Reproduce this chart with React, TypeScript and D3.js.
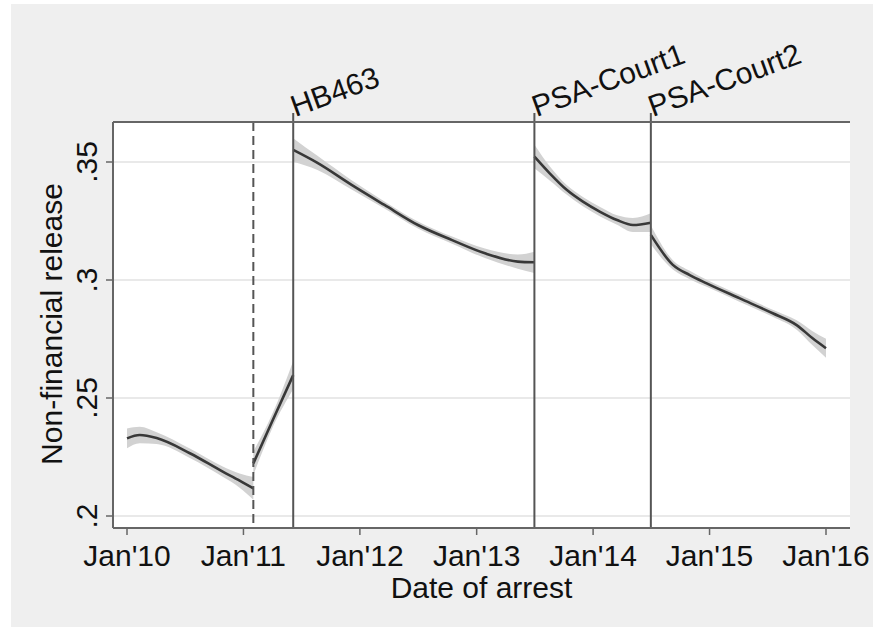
import React from "react";
import * as d3 from "d3";

// ---------- data (date, estimate, CI half-width) ----------
const segPre: [string, number, number][] = [
  ["2010-01-01", 0.2329, 0.0042],
  ["2010-02-10", 0.2343, 0.0035],
  ["2010-04-04", 0.233, 0.0025],
  ["2010-07-17", 0.2266, 0.002],
  ["2010-10-28", 0.2188, 0.0022],
  ["2010-12-20", 0.215, 0.003],
  ["2011-02-01", 0.2117, 0.0048],
];
const segAnnounce: [string, number, number][] = [
  ["2011-02-01", 0.2223, 0.005],
  ["2011-04-03", 0.2407, 0.003],
  ["2011-06-06", 0.2597, 0.006],
];
const segHB463: [string, number, number][] = [
  ["2011-06-06", 0.3551, 0.005],
  ["2011-08-21", 0.3496, 0.003],
  ["2011-12-06", 0.3403, 0.002],
  ["2012-03-18", 0.3318, 0.0015],
  ["2012-07-01", 0.3233, 0.0015],
  ["2012-10-16", 0.3169, 0.0015],
  ["2013-01-27", 0.3113, 0.002],
  ["2013-05-10", 0.3078, 0.003],
  ["2013-07-01", 0.3075, 0.0045],
];
const segCourt1: [string, number, number][] = [
  ["2013-07-01", 0.3523, 0.005],
  ["2013-08-18", 0.3452, 0.003],
  ["2013-10-11", 0.3381, 0.002],
  ["2013-11-30", 0.3332, 0.002],
  ["2014-01-23", 0.3289, 0.002],
  ["2014-03-17", 0.3254, 0.002],
  ["2014-05-06", 0.3233, 0.003],
  ["2014-07-01", 0.3243, 0.004],
];
const segCourt2: [string, number, number][] = [
  ["2014-07-01", 0.3191, 0.004],
  ["2014-09-08", 0.3064, 0.002],
  ["2014-10-31", 0.3021, 0.0018],
  ["2014-12-23", 0.2986, 0.0015],
  ["2015-04-06", 0.2922, 0.0015],
  ["2015-07-18", 0.2859, 0.0015],
  ["2015-10-01", 0.2809, 0.002],
  ["2015-11-20", 0.2753, 0.003],
  ["2016-01-01", 0.2711, 0.004],
];
const segments = [segPre, segAnnounce, segHB463, segCourt1, segCourt2];

const dashedDate = "2011-02-01";
const eventLabels = ["HB463", "PSA-Court1", "PSA-Court2"];
const eventDates = ["2011-06-06", "2013-07-01", "2014-07-01"];

const xTickDates = ["2010-01-01", "2011-01-01", "2012-01-01", "2013-01-01", "2014-01-01", "2015-01-01", "2016-01-01"];
const xTickLabels = ["Jan'10", "Jan'11", "Jan'12", "Jan'13", "Jan'14", "Jan'15", "Jan'16"];
const yTicks = [0.2, 0.25, 0.3, 0.35];
const yTickLabels = [".2", ".25", ".3", ".35"];

const FONT = "'Liberation Sans', Arial, Helvetica, sans-serif";

export default function App() {
  const W = 873, H = 627;
  const left = 113, right = 850, top = 122, bottom = 528;
  const parse = d3.timeParse("%Y-%m-%d");
  const x = d3.scaleTime()
    .domain([parse("2010-01-01")!, parse("2016-01-01")!])
    .range([127, 826]);
  const y = d3.scaleLinear().domain([0.2, 0.35]).range([516, 162]);

  const area = d3.area<[string, number, number]>()
    .x((d) => x(parse(d[0])!))
    .y0((d) => y(d[1] - d[2]))
    .y1((d) => y(d[1] + d[2]))
    .curve(d3.curveMonotoneX);
  const line = d3.line<[string, number, number]>()
    .x((d) => x(parse(d[0])!))
    .y((d) => y(d[1]))
    .curve(d3.curveMonotoneX);

  const frame = "#666";
  return (
    <svg width={W} height={H} style={{ position: "absolute", left: 0, top: 0 }} fontFamily={FONT}>
      <rect x={0} y={0} width={W} height={H} fill="#ffffff" />
      <rect x={11} y={4} width={W - 11} height={H - 4} fill="#efefef" />
      <rect x={left} y={top} width={right - left} height={bottom - top} fill="#ffffff" />
      {yTicks.map((t) => (
        <line key={"g" + t} x1={left} x2={right} y1={y(t)} y2={y(t)} stroke="#e9e9e9" strokeWidth={2} />
      ))}
      {segments.map((s, i) => (
        <path key={"a" + i} d={area(s) || ""} fill="#d2d2d2" />
      ))}
      {segments.map((s, i) => (
        <path key={"l" + i} d={line(s) || ""} fill="none" stroke="#383838" strokeWidth={2.6} />
      ))}
      <line x1={x(parse(dashedDate)!)} x2={x(parse(dashedDate)!)} y1={top} y2={bottom}
        stroke="#555" strokeWidth={2} strokeDasharray="9,5" />
      {eventDates.map((d, i) => {
        const xp = x(parse(d)!);
        return (
          <g key={"e" + i}>
            <line x1={xp} x2={xp} y1={113} y2={bottom} stroke="#555" strokeWidth={2} />
            <text transform={`translate(${xp + 2},${117}) rotate(-20)`} fontSize={30} fill="#111">
              {eventLabels[i]}
            </text>
          </g>
        );
      })}
      {/* frame */}
      <line x1={left} x2={right} y1={top} y2={top} stroke={frame} strokeWidth={2} />
      <line x1={left} x2={left} y1={top} y2={bottom} stroke={frame} strokeWidth={2} />
      <line x1={left} x2={right} y1={bottom} y2={bottom} stroke={frame} strokeWidth={2} />
      {/* y axis */}
      {yTicks.map((t, i) => (
        <g key={"y" + t}>
          <line x1={left - 7} x2={left} y1={y(t)} y2={y(t)} stroke={frame} strokeWidth={1.5} />
          <text transform={`translate(97,${y(t)}) rotate(-90)`} textAnchor="middle" fontSize={30} fill="#111">
            {yTickLabels[i]}
          </text>
        </g>
      ))}
      {/* x axis */}
      {xTickDates.map((d, i) => {
        const xp = x(parse(d)!);
        return (
          <g key={"x" + d}>
            <line x1={xp} x2={xp} y1={bottom} y2={bottom + 7} stroke={frame} strokeWidth={1.5} />
            <text x={xp} y={566} textAnchor="middle" fontSize={30} fill="#111">{xTickLabels[i]}</text>
          </g>
        );
      })}
      <text x={(left + right) / 2} y={598} textAnchor="middle" fontSize={30} fill="#111">Date of arrest</text>
      <text transform={`translate(62,${324}) rotate(-90)`} textAnchor="middle" fontSize={30} fill="#111">
        Non-financial release
      </text>
    </svg>
  );
}
